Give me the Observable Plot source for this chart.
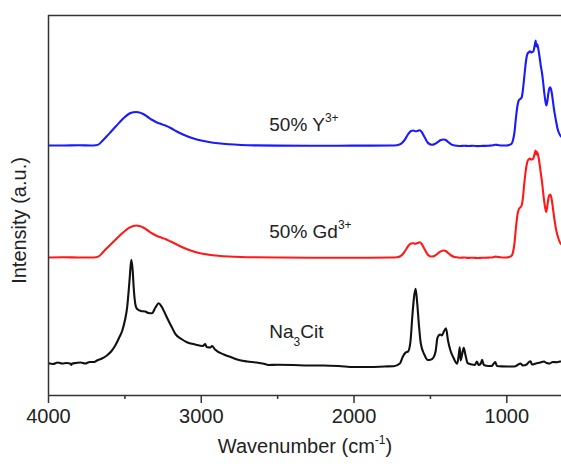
<!DOCTYPE html>
<html><head><meta charset="utf-8">
<script src="https://cdn.jsdelivr.net/npm/d3@7"></script>
<script src="https://cdn.jsdelivr.net/npm/@observablehq/plot@0.6"></script>
<style>
body{margin:0;background:#fff;}
#chart svg{font-family:"Liberation Sans",Arial,Helvetica,sans-serif;background:#fff;}
</style></head><body><div id="chart"></div>
<script>
// ---- data (wavenumber cm-1, intensity a.u. with vertical offsets as plotted) ----
const xTicks = [4000, 3000, 2000, 1000];
const xMinorTicks = [3500, 2500, 1500];
const xDomain = [4000, 642];
const yDomain = [0, 380];
const seriesNames = ["Na3Cit", "50% Gd3+", "50% Y3+"];
const seriesColors = ["#111111", "#ff1a1a", "#1a1aff"];

const spectrumY = [[4000,250],[3900,250],[3800,250.2],[3720,250],[3690,250.3],[3668,251.5],[3645,255],[3620,259],[3590,264],[3560,269],[3530,274],[3500,278.5],[3470,282],[3445,283.3],[3426,283.5],[3405,283],[3380,281.5],[3350,278.5],[3320,275.5],[3290,273],[3262,271.5],[3235,270],[3200,267.5],[3160,264],[3120,261],[3080,258.5],[3040,256.5],[3000,255],[2950,253.5],[2890,252.2],[2820,251.2],[2740,250.5],[2650,250.1],[2500,249.9],[2300,249.8],[2100,249.8],[1900,249.9],[1760,250],[1720,250.3],[1697,251.3],[1680,253.5],[1664,256.7],[1645,261.5],[1627,264.5],[1612,265],[1599,264.3],[1584,264.6],[1570,265.3],[1557,263.5],[1544,260],[1530,256],[1518,253],[1503,251.2],[1489,250.7],[1472,251.5],[1456,253],[1435,255.2],[1413,256],[1395,255],[1380,253],[1364,251.2],[1348,250.2],[1325,249.7],[1304,249.5],[1280,249.8],[1250,249.5],[1220,249.7],[1190,249.4],[1160,249.6],[1120,249.8],[1090,250.2],[1075,250.8],[1060,250.5],[1030,250],[1000,250],[985,250.5],[970,251.5],[960,255],[950,263],[940,278],[930,290],[922,295],[912,296.5],[903,298],[895,305],[888,315],[880,327],[872,337],[864,342],[857,343],[848,344.2],[840,343],[833,343.5],[826,344.2],[820,348],[815,352],[811,355],[807,349],[803,351.5],[799,350.5],[792,345],[785,338],[778,330],[769,322],[762,313],[755,303],[748,295],[741,290],[735,294],[728,302],[722,307],[716,308.3],[710,306],[704,301],[697,293],[690,285],[683,279],[676,273],[668,267],[660,263],[650,260],[642,258.5]];

const spectrumGd = [[4000,138],[3900,138.2],[3800,138],[3720,138],[3690,138.3],[3668,139.5],[3645,143],[3620,147],[3590,151.5],[3560,156],[3530,160.5],[3500,164.5],[3470,167.8],[3445,169.5],[3426,170],[3405,169.5],[3380,168],[3350,165],[3320,162],[3290,159.5],[3262,158],[3235,156.5],[3200,154],[3160,151],[3120,148],[3080,145.5],[3040,143.5],[3000,142],[2950,140.8],[2890,139.8],[2820,139],[2740,138.5],[2650,138.2],[2500,138],[2300,137.8],[2100,137.8],[1900,137.8],[1760,138],[1720,138.3],[1697,139.2],[1680,141.5],[1664,145],[1645,149.5],[1627,152],[1612,152.3],[1599,151.8],[1584,152.5],[1570,153.2],[1557,151.5],[1544,148],[1530,144],[1518,141],[1503,139.3],[1489,139],[1472,139.8],[1456,141.5],[1435,143.8],[1413,145],[1395,144],[1380,142],[1364,140],[1348,138.8],[1325,138.2],[1304,137.8],[1280,138],[1250,137.6],[1220,137.8],[1190,137.5],[1160,137.7],[1120,137.9],[1090,138.3],[1075,138.9],[1060,138.5],[1030,138],[1000,138],[985,138.5],[970,139.5],[960,143],[950,152],[940,168],[930,181],[922,186],[912,188],[903,190],[895,197],[888,208],[880,220],[872,229],[864,234.5],[857,236],[848,237],[840,236],[833,236.3],[826,237],[820,240.5],[815,243.5],[811,245],[807,241],[803,243.5],[799,242.5],[792,238],[785,231],[778,223],[769,213],[762,203],[755,194],[748,187],[743,183.5],[737,187],[730,195],[723,200],[716,201],[710,199],[704,194],[697,186],[690,178],[683,171],[676,165],[668,160],[660,156],[650,152.5],[642,151]];

const spectrumNaCit = [[4000,32.3],[3970,31.5],[3940,33],[3910,32],[3880,32.5],[3855,31.8],[3850,30.5],[3845,32],[3820,32.5],[3790,33],[3760,32],[3730,33.5],[3700,33.5],[3683,35],[3650,37],[3618,40],[3590,44],[3563,50],[3540,57],[3517,65],[3500,75],[3485,88.3],[3475,105],[3468,118.3],[3458,135.7],[3450,127],[3441,105],[3430,90],[3421,86.7],[3395,84.5],[3367,84],[3345,82.5],[3323,82.3],[3300,88],[3279,92.3],[3260,89],[3240,83],[3224,77.7],[3195,69],[3170,61.7],[3130,56.5],[3094,53.3],[3040,51],[2990,49.5],[2974,51.5],[2965,48.5],[2940,48],[2930,49.5],[2910,46],[2852,41],[2800,38],[2765,36],[2700,34],[2640,33],[2590,31.7],[2560,30.5],[2503,30.7],[2400,30.5],[2300,30],[2200,30],[2100,29.5],[2000,28.5],[1900,28.5],[1800,29],[1740,29.3],[1700,32],[1680,39],[1664,42.7],[1645,44.3],[1630,55],[1618,80],[1606,100],[1597,106.7],[1588,95],[1575,70],[1563,52],[1540,41],[1517,35.5],[1500,35.7],[1480,38],[1465,45],[1455,57],[1446,60],[1435,61],[1425,60],[1412,64],[1398,67.3],[1385,55],[1369,45],[1350,38],[1325,31.7],[1315,40],[1308,48.3],[1302,35],[1290,43],[1282,47.7],[1270,40],[1256,32.3],[1230,31],[1210,30.5],[1195,34],[1185,30.5],[1170,32],[1162,35.7],[1150,30.5],[1120,29.5],[1100,29.5],[1085,32],[1075,33.5],[1065,29.5],[1000,29],[950,29],[930,30.5],[911,32],[895,30],[870,31],[855,33.5],[845,34.3],[835,31],[810,32],[780,33],[757,34],[740,32.5],[720,32],[700,33.5],[670,33.3],[650,34],[642,34]];

const labelWn = [2555, 2555, 2555];
const labelIntensity = [57.7, 157.7, 264.3];
const labelMain = ["Na", "50% Gd", "50% Y"];
const labelScript = ["3", "3+", "3+"];
const labelScriptKind = ["sub", "sup", "sup"];
const labelTail = ["Cit", "", ""];
const xTitleMain = "Wavenumber (cm";
const xTitleSup = "-1";
const xTitleTail = ")";
const yTitle = "Intensity (a.u.)";

// ---- build tables ----
const spectra = [spectrumNaCit, spectrumGd, spectrumY];
const rows = spectra.flatMap((s, i) => s.map(([wn, v]) => ({series: seriesNames[i], wn, v})));
const labels = labelMain.map((m, i) => ({
  wn: labelWn[i], v: labelIntensity[i],
  full: m + labelScript[i] + labelTail[i],
  main: m, script: labelScript[i], kind: labelScriptKind[i], tail: labelTail[i]
}));
const xTitleFull = xTitleMain + xTitleSup + xTitleTail;

const ink = "#222";
const frameColor = "#333";

const chart = Plot.plot({
  width: 561,
  height: 466,
  marginLeft: 48,
  marginRight: 0,
  marginTop: 15,
  marginBottom: 71,
  style: {fontFamily: '"Liberation Sans", Arial, Helvetica, sans-serif', color: ink, background: "#fff"},
  x: {domain: xDomain, axis: null},
  y: {domain: yDomain, axis: null},
  color: {domain: seriesNames, range: seriesColors},
  marks: [
    Plot.line(rows, {x: "wn", y: "v", z: "series", stroke: "series", strokeWidth: 2.1, curve: "monotone-x", strokeLinecap: "butt"}),
    Plot.ruleY([yDomain[0]], {stroke: frameColor, strokeWidth: 1.5}),
    Plot.ruleY([yDomain[1]], {stroke: frameColor, strokeWidth: 1.5}),
    Plot.ruleX([xDomain[0]], {stroke: frameColor, strokeWidth: 1.5}),
    Plot.axisX(xTicks, {tickSize: 8, tickPadding: 5, tickFormat: d3.format("d"), fontSize: 20, label: null, stroke: frameColor, strokeWidth: 1.5, fill: ink}),
    Plot.axisX(xMinorTicks, {tickSize: 4, tickFormat: () => "", label: null, stroke: frameColor, strokeWidth: 1.5}),
    Plot.text(labels, {x: "wn", y: "v", text: "full", textAnchor: "start", lineAnchor: "bottom", fontSize: 19, fill: ink}),
    Plot.text([xTitleFull], {frameAnchor: "bottom", dy: 57, lineAnchor: "bottom", fontSize: 20, fill: ink}),
    Plot.text([yTitle], {frameAnchor: "left", textAnchor: "middle", rotate: -90, dx: -29, dy: 15, fontSize: 20, fill: ink})
  ]
});

// ---- superscripts / subscripts as real tspans ----
function rewrite(node, parts) {
  node.textContent = "";
  const sel = d3.select(node);
  for (const p of parts) {
    const t = sel.append("tspan").text(p.t);
    if (p.size) t.attr("font-size", p.size);
    if (p.dy) t.attr("dy", p.dy);
  }
}
d3.select(chart).selectAll("text").each(function () {
  const t = this.textContent;
  const lab = labels.find(l => l.full === t);
  if (lab) {
    if (lab.kind === "sup") {
      rewrite(this, [{t: lab.main}, {t: lab.script, size: 12, dy: -9}]);
    } else {
      rewrite(this, [{t: lab.main}, {t: lab.script, size: 12, dy: 8}, {t: lab.tail, size: 19, dy: -8}]);
    }
  } else if (t === xTitleFull) {
    rewrite(this, [{t: xTitleMain}, {t: xTitleSup, size: 12, dy: -9}, {t: xTitleTail, size: 20, dy: 9}]);
  }
});

document.getElementById("chart").appendChild(chart);
</script>
</body></html>
